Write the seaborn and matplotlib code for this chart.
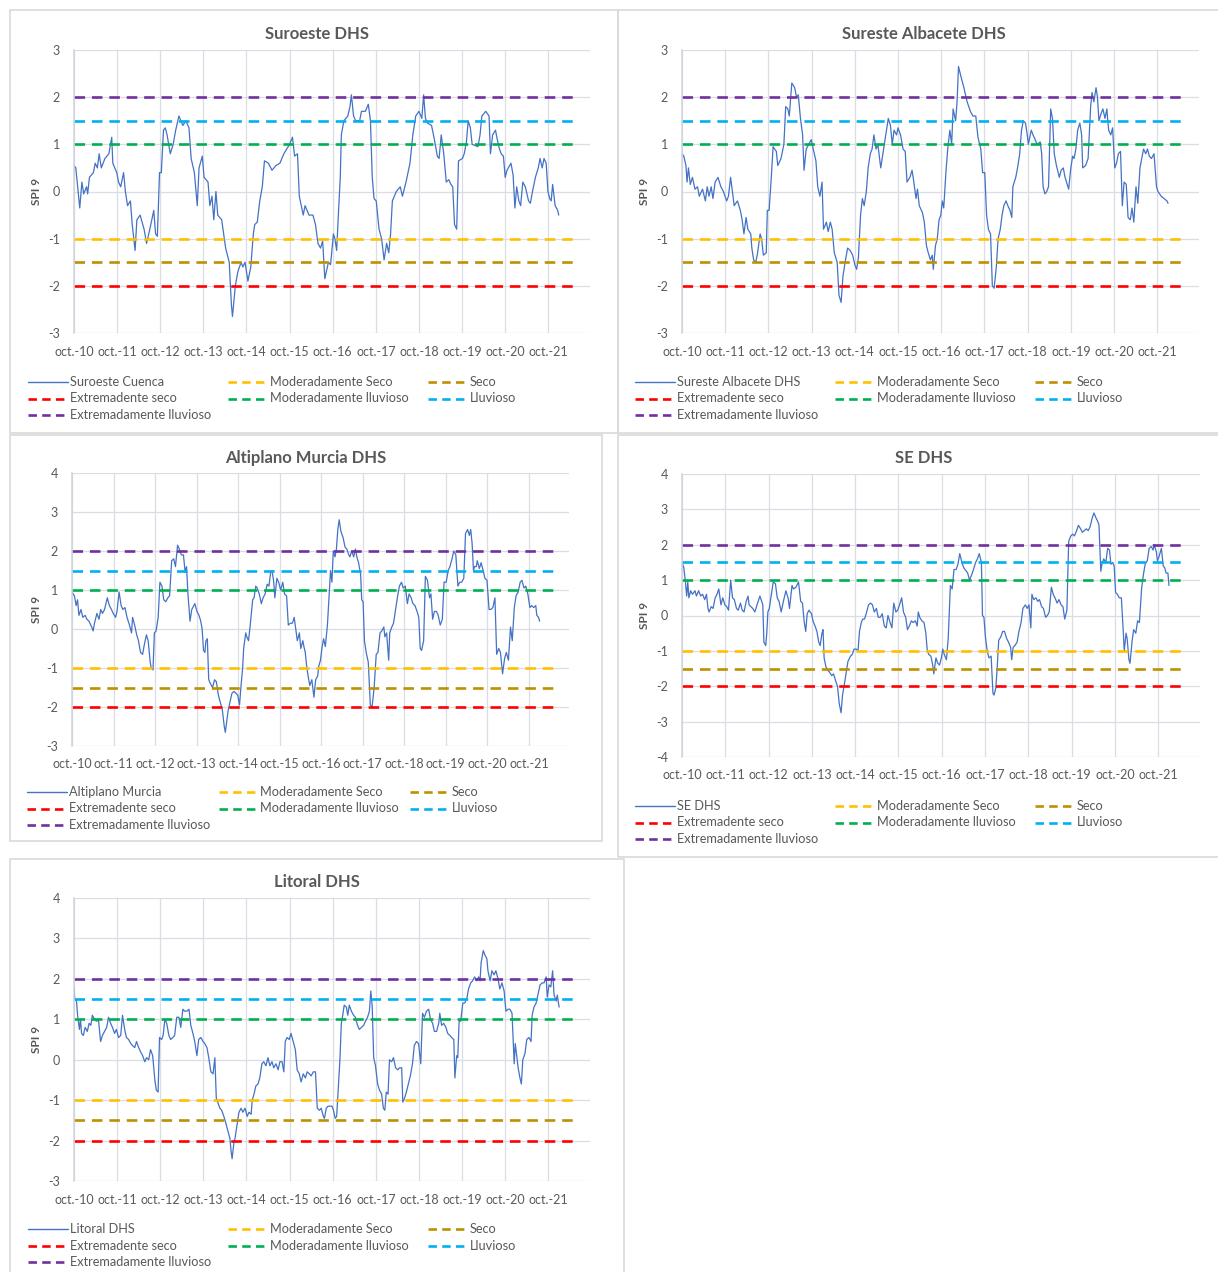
import pandas as pd
import seaborn as sns
import matplotlib.pyplot as plt
from matplotlib.lines import Line2D
from matplotlib.patches import Rectangle

# SPI 9: (months since oct.-10, value)
suroeste = [(0.0, 0.55), (0.5, 0.5), (1.6, -0.35), (2.2, 0.2), (2.7, -0.05), (3.5, 0.1), (3.8, -0.05),
            (4.3, 0.3), (5.4, 0.4), (5.9, 0.6), (6.5, 0.5), (7.0, 0.8), (7.6, 0.5), (8.6, 0.7), (9.7, 0.8),
            (10.5, 1.15), (10.8, 0.6), (11.9, 0.4), (12.4, 0.2), (13.0, 0.1), (13.8, 0.4), (14.3, 0.0),
            (14.9, -0.3), (15.7, -0.2), (16.2, -0.7), (17.0, -1.25), (17.5, -0.6), (18.4, -0.5), (19.5, -0.8),
            (20.2, -1.1), (21.1, -0.8), (22.2, -0.4), (22.7, -0.9), (23.2, -0.95), (23.8, 0.4), (24.3, 0.4),
            (24.9, 1.3), (25.4, 1.35), (25.9, 1.2), (26.8, 0.8), (27.6, 1.0), (28.3, 1.3), (29.2, 1.6),
            (30.3, 1.4), (31.1, 1.5), (32.0, 1.35), (32.6, 0.7), (33.5, 0.4), (34.3, -0.3), (34.8, 0.5),
            (35.7, 0.75), (36.2, 0.3), (37.3, 0.2), (37.8, -0.3), (38.4, -0.1), (38.9, -0.6), (39.5, 0.0),
            (40.0, -0.5), (41.1, -0.6), (42.2, -1.2), (43.2, -1.5), (43.8, -2.4), (44.1, -2.65), (44.9, -2.0),
            (45.6, -1.7), (46.5, -1.5), (47.0, -1.6), (47.6, -1.5), (48.4, -1.9), (49.2, -1.6), (49.9, -0.9),
            (50.3, -0.7), (51.0, -0.65), (51.7, -0.2), (52.4, 0.1), (53.0, 0.65), (54.1, 0.6), (55.1, 0.45),
            (56.2, 0.55), (57.3, 0.6), (58.4, 0.8), (59.2, 0.9), (60.0, 1.0), (60.8, 1.15), (61.4, 0.75),
            (62.2, 0.8), (62.7, -0.1), (63.8, -0.5), (64.3, -0.3), (65.4, -0.5), (66.5, -0.5), (67.2, -0.7),
            (67.9, -1.1), (68.6, -1.2), (69.2, -1.05), (69.8, -1.85), (70.8, -1.5), (71.4, -1.55), (72.2, -0.9),
            (72.6, -1.0), (73.1, -1.25), (73.5, -0.6), (74.1, 0.3), (74.4, 1.2), (75.1, 1.5), (76.2, 1.6),
            (76.8, 1.8), (77.2, 2.05), (77.8, 1.6), (78.4, 1.5), (79.5, 1.5), (80.0, 1.7), (81.1, 1.7),
            (81.9, 1.85), (82.5, 1.5), (83.0, 0.3), (83.5, -0.15), (84.1, -0.2), (84.9, -0.8), (85.6, -1.0),
            (86.3, -1.45), (87.0, -1.1), (87.6, -1.3), (88.1, -0.9), (88.6, -0.2), (89.7, 0.0), (90.8, 0.1),
            (91.4, -0.1), (92.4, 0.2), (93.5, 0.6), (94.3, 1.2), (95.1, 1.6), (96.0, 1.7), (96.8, 1.55),
            (97.3, 2.05), (97.8, 1.55), (98.4, 1.45), (99.5, 1.4), (100.3, 1.1), (101.1, 0.75), (101.6, 0.7),
            (102.2, 1.2), (102.9, 0.8), (103.6, 0.2), (104.3, 0.25), (104.9, 0.15), (105.4, 0.1), (105.9, -0.7),
            (106.5, -0.8), (107.0, 0.65), (108.1, 0.7), (108.6, 0.8), (109.2, 1.05), (109.7, 1.5), (110.3, 1.35),
            (110.8, 1.0), (112.4, 0.95), (113.0, 1.2), (113.5, 1.6), (114.6, 1.7), (115.5, 1.6), (115.9, 0.8),
            (116.5, 1.2), (117.3, 1.3), (117.8, 1.1), (118.4, 0.9), (118.9, 0.8), (119.5, 0.75), (120.0, 0.3),
            (120.5, 0.45), (121.6, 0.6), (122.2, 0.35), (122.7, -0.35), (123.2, 0.1), (123.8, -0.2),
            (124.3, -0.3), (124.9, 0.2), (125.6, 0.1), (126.5, -0.2), (127.0, -0.25), (127.6, 0.0), (128.4, 0.3),
            (129.2, 0.5), (129.7, 0.7), (130.3, 0.5), (130.8, 0.7), (131.4, 0.6), (131.9, 0.0), (132.4, -0.15),
            (132.8, -0.2), (133.2, 0.15), (133.9, -0.3), (134.6, -0.4), (134.9, -0.5)]

albacete = [(0.0, 0.8), (0.5, 0.75), (1.1, 0.55), (1.4, 0.2), (1.8, 0.5), (2.3, 0.15), (2.9, 0.3), (3.6, 0.05),
            (4.3, 0.1), (4.8, -0.1), (5.7, 0.05), (6.5, -0.2), (7.0, 0.1), (7.5, -0.1), (8.1, 0.1), (8.6, -0.15),
            (9.2, 0.2), (10.0, 0.3), (10.8, 0.1), (11.5, 0.0), (12.4, -0.2), (12.9, -0.1), (13.5, 0.3),
            (14.0, 0.0), (14.5, -0.3), (15.4, -0.2), (16.2, -0.4), (16.7, -0.6), (17.2, -0.9), (17.8, -0.55),
            (18.3, -0.8), (19.1, -0.9), (19.4, -1.2), (19.9, -1.45), (20.5, -1.5), (21.0, -1.3), (21.7, -0.9),
            (22.1, -1.0), (22.6, -1.35), (23.4, -1.3), (23.7, -0.4), (24.2, -0.4), (24.8, 0.3), (25.3, 0.95),
            (26.2, 0.85), (26.6, 0.55), (27.5, 0.7), (28.3, 1.0), (28.8, 1.8), (29.4, 1.75), (29.8, 1.6),
            (30.5, 2.3), (31.3, 2.2), (31.8, 2.0), (32.3, 2.05), (32.9, 1.55), (33.5, 1.2), (33.9, 0.45),
            (34.5, 0.9), (35.2, 1.0), (35.9, 1.1), (36.3, 0.95), (37.2, 0.65), (37.7, 0.1), (38.3, -0.1),
            (38.9, 0.2), (39.3, -0.8), (40.1, -0.65), (40.6, -0.85), (41.2, -0.65), (41.7, -0.8), (42.3, -1.3),
            (43.1, -1.5), (43.6, -2.2), (44.2, -2.35), (44.7, -1.8), (45.3, -1.5), (46.0, -1.2), (46.7, -1.25),
            (47.4, -1.35), (48.0, -1.55), (48.5, -1.65), (49.0, -1.4), (49.6, -0.5), (50.1, -0.15), (50.6, -0.3),
            (51.2, 0.0), (51.7, 0.5), (52.3, 0.8), (52.8, 0.9), (53.3, 1.2), (53.9, 0.9), (54.4, 1.0),
            (55.2, 0.5), (55.7, 0.75), (56.4, 1.1), (56.8, 1.3), (57.3, 1.55), (57.9, 1.4), (58.4, 1.0),
            (58.9, 1.3), (59.6, 1.2), (60.0, 1.35), (60.7, 1.2), (61.4, 0.9), (62.0, 0.85), (62.5, 0.2),
            (63.3, 0.3), (63.9, 0.45), (64.3, 0.25), (65.0, -0.15), (65.4, 0.05), (65.9, -0.3), (66.8, -0.45),
            (67.3, -0.65), (67.9, -1.15), (68.4, -1.3), (69.0, -1.45), (69.5, -1.35), (69.8, -1.65),
            (70.4, -1.15), (70.9, -1.0), (71.4, -0.6), (71.9, -0.5), (72.3, -0.2), (72.7, -0.35), (73.3, 0.4),
            (73.8, 0.9), (74.4, 1.3), (74.9, 1.0), (75.3, 1.75), (76.0, 1.5), (76.4, 1.9), (76.8, 2.65),
            (77.6, 2.4), (78.3, 2.2), (79.2, 1.9), (80.1, 1.7), (80.8, 1.6), (81.6, 1.6), (82.2, 1.15),
            (83.0, 0.9), (83.5, 0.4), (84.1, 0.4), (84.6, -0.5), (85.1, -0.8), (85.7, -0.9), (86.2, -2.0),
            (86.7, -2.05), (87.3, -1.6), (87.8, -1.0), (88.4, -0.8), (88.9, -0.5), (89.4, -0.3), (90.0, -0.2),
            (90.5, -0.3), (91.1, -0.4), (91.6, -0.55), (91.9, 0.1), (92.7, 0.3), (93.2, 0.5), (93.8, 0.8),
            (94.3, 1.3), (94.8, 1.5), (95.4, 1.45), (95.9, 1.2), (96.2, 1.0), (97.0, 1.3), (97.5, 1.2),
            (98.1, 1.1), (98.6, 1.0), (99.5, 1.05), (99.9, 0.8), (100.3, 0.1), (100.8, -0.05), (101.3, 0.0),
            (101.8, 0.1), (102.4, 1.75), (102.9, 1.55), (103.4, 0.8), (104.0, 0.55), (104.5, 0.4), (104.8, 0.3),
            (105.3, 0.45), (105.9, 0.5), (106.4, 0.3), (107.0, 0.15), (107.4, 0.05), (108.0, 0.5), (108.5, 0.75),
            (108.9, 0.7), (109.4, 0.9), (109.9, 1.3), (110.5, 1.45), (111.0, 1.2), (111.3, 0.5), (112.1, 0.55),
            (112.8, 0.7), (113.5, 1.8), (113.9, 2.1), (114.4, 1.9), (115.0, 2.2), (115.4, 2.0), (115.8, 1.5),
            (116.4, 1.65), (116.9, 1.75), (117.5, 1.55), (118.0, 1.75), (118.5, 1.3), (119.1, 1.2), (119.6, 1.35),
            (120.2, 0.5), (120.7, 0.6), (121.2, 0.8), (121.8, 0.85), (122.3, -0.3), (122.8, 0.2), (123.4, 0.15),
            (123.9, -0.55), (124.5, -0.6), (125.0, -0.35), (125.5, -0.65), (126.1, 0.1), (126.6, -0.25),
            (127.2, 0.5), (127.7, 0.7), (128.2, 0.9), (128.8, 0.8), (129.3, 0.9), (129.8, 0.75), (130.4, 0.7),
            (131.1, 0.8), (131.8, 0.1), (132.2, 0.0), (133.1, -0.1), (133.9, -0.15), (134.7, -0.2), (135.0, -0.25)]

altiplano = [(0.0, 0.95), (0.7, 0.85), (1.2, 0.6), (1.6, 0.75), (2.0, 0.35), (2.6, 0.5), (3.1, 0.3), (3.8, 0.35),
             (4.3, 0.25), (4.9, 0.2), (5.7, 0.05), (6.1, -0.05), (6.5, 0.15), (7.2, 0.4), (7.8, 0.25), (8.3, 0.5),
             (8.8, 0.4), (9.4, 0.5), (10.2, 0.8), (10.8, 0.6), (11.4, 0.5), (11.9, 0.4), (12.6, 0.3), (13.0, 0.45),
             (13.6, 0.95), (14.2, 0.6), (14.7, 0.5), (15.3, 0.55), (15.9, 0.3), (16.6, 0.1), (17.2, -0.1),
             (17.5, 0.3), (18.1, 0.1), (18.7, -0.15), (19.2, -0.3), (19.8, -0.6), (20.4, -0.65), (20.9, -0.4),
             (21.5, -0.15), (22.0, -0.3), (22.6, -0.85), (22.9, -1.0), (23.4, -1.05), (23.8, -0.1), (24.3, -0.05),
             (24.9, 0.3), (25.4, 1.2), (26.0, 1.1), (26.5, 0.75), (27.1, 0.7), (27.7, 0.8), (28.2, 0.85),
             (28.8, 1.75), (29.4, 1.8), (29.9, 1.6), (30.5, 2.15), (31.0, 2.05), (31.6, 1.9), (32.2, 1.9),
             (32.7, 1.45), (33.1, 1.6), (33.5, 0.9), (34.1, 0.2), (34.6, 0.5), (35.5, 0.65), (36.1, 0.45),
             (36.7, 0.35), (37.2, 0.2), (37.6, 0.0), (38.0, -0.55), (38.4, -0.6), (38.7, -0.3), (39.1, -0.25),
             (39.5, -1.3), (40.0, -1.4), (40.6, -1.5), (41.2, -1.3), (41.7, -1.35), (42.3, -1.7), (42.9, -1.9),
             (43.4, -2.05), (44.0, -2.5), (44.3, -2.65), (44.8, -2.3), (45.1, -2.1), (45.7, -1.85), (46.2, -1.65),
             (46.8, -1.6), (47.4, -1.65), (47.9, -1.7), (48.4, -1.95), (48.8, -1.5), (49.3, -1.0), (49.6, -0.5),
             (50.2, -0.1), (50.5, -0.2), (51.0, -0.3), (51.5, 0.1), (52.2, 0.75), (52.6, 0.8), (53.1, 1.1),
             (53.5, 1.05), (54.1, 0.9), (54.7, 0.65), (55.2, 0.8), (55.8, 0.9), (56.4, 1.15), (56.9, 1.1),
             (57.4, 1.45), (57.8, 1.5), (58.3, 1.2), (58.6, 0.8), (59.2, 1.3), (59.7, 1.2), (60.3, 1.0),
             (60.9, 1.2), (61.4, 0.9), (62.0, 0.85), (62.5, 0.1), (63.1, 0.15), (63.7, 0.15), (64.2, 0.3),
             (64.8, -0.1), (65.1, -0.3), (65.7, -0.1), (66.1, -0.5), (66.7, -0.3), (67.0, -0.45), (67.4, -0.6),
             (67.8, -0.95), (68.2, -1.2), (68.7, -1.45), (69.3, -1.3), (69.9, -1.75), (70.4, -1.3), (71.0, -1.2),
             (71.3, -0.95), (71.8, -0.8), (72.2, -0.5), (72.7, -0.25), (73.2, -0.45), (73.8, 0.1), (74.4, 1.05),
             (74.7, 1.5), (75.1, 1.2), (75.5, 2.0), (76.0, 1.85), (76.4, 2.05), (76.8, 2.55), (77.2, 2.8),
             (77.7, 2.5), (78.3, 2.35), (78.9, 2.1), (79.4, 2.05), (80.0, 1.9), (80.3, 1.85), (80.8, 2.0),
             (81.4, 1.85), (81.9, 2.05), (82.3, 1.85), (82.8, 1.7), (83.4, 1.4), (83.7, 0.75), (84.1, 0.7),
             (84.5, -0.3), (85.0, -0.6), (85.6, -0.85), (86.2, -1.95), (86.7, -2.0), (87.3, -1.5), (87.9, -0.65),
             (88.4, -0.6), (89.0, -0.1), (89.5, -0.05), (90.1, 0.05), (90.4, -0.2), (90.9, -0.1), (91.5, -0.8),
             (91.8, -0.1), (92.4, 0.05), (92.9, 0.15), (93.5, 0.5), (94.0, 0.8), (94.6, 1.1), (95.2, 1.2),
             (95.7, 1.05), (96.3, 1.1), (96.9, 0.65), (97.4, 0.9), (98.0, 0.8), (98.5, 0.65), (99.1, 0.6),
             (99.7, 0.45), (100.2, 0.3), (100.6, -0.5), (101.0, -0.55), (101.6, -0.3), (102.1, 1.35),
             (102.7, 1.25), (103.3, 0.8), (103.7, 0.9), (104.2, 0.25), (104.7, 0.45), (105.3, 0.45),
             (105.8, 0.35), (106.4, 0.1), (107.0, 0.25), (107.5, 1.2), (108.1, 1.2), (108.7, 1.5), (109.2, 1.6),
             (109.8, 1.8), (110.3, 2.0), (110.9, 1.9), (111.5, 1.1), (112.0, 1.2), (112.6, 1.2), (113.2, 1.3),
             (113.7, 2.45), (114.3, 2.55), (114.8, 2.4), (115.2, 2.55), (115.6, 2.2), (116.0, 1.5), (116.3, 1.6),
             (116.8, 1.6), (117.1, 1.75), (117.7, 1.55), (118.2, 1.7), (118.8, 1.5), (119.3, 1.3), (119.9, 1.25),
             (120.5, 0.5), (121.0, 0.5), (121.6, 0.55), (122.2, 0.8), (122.7, -0.65), (123.3, -0.5),
             (123.8, -0.6), (124.4, -1.15), (125.0, -0.75), (125.5, -0.6), (126.1, -0.8), (126.7, 0.05),
             (127.2, -0.3), (127.8, 0.55), (128.3, 0.85), (128.9, 0.95), (129.5, 1.2), (130.0, 1.25),
             (130.6, 1.05), (131.1, 1.1), (131.7, 0.9), (132.3, 0.55), (132.8, 0.6), (133.4, 0.55), (134.0, 0.6),
             (134.3, 0.35), (134.8, 0.3), (135.1, 0.2)]

se_dhs = [(0.0, 1.5), (0.5, 1.35), (0.9, 1.0), (1.3, 0.55), (1.6, 0.95), (1.9, 0.5), (2.4, 0.7), (2.9, 0.6),
          (3.6, 0.7), (4.0, 0.55), (4.6, 0.7), (5.2, 0.55), (5.7, 0.6), (6.3, 0.45), (6.8, 0.6), (7.2, 0.2),
          (7.5, 0.1), (8.1, 0.25), (8.6, 0.2), (9.2, 0.5), (9.7, 0.6), (10.2, 0.75), (10.8, 0.3), (11.3, 0.5),
          (11.9, 0.3), (12.4, 0.25), (12.9, 0.15), (13.5, 1.0), (14.0, 0.5), (14.5, 0.45), (15.1, 0.2),
          (15.6, 0.15), (16.2, 0.35), (16.7, 0.15), (17.2, 0.1), (17.8, 0.4), (18.3, 0.55), (18.6, 0.3),
          (19.1, 0.25), (19.6, 0.2), (20.2, 0.1), (20.8, 0.3), (21.6, 0.55), (22.1, 0.4), (22.4, 0.3),
          (22.7, -0.75), (23.2, -0.85), (23.5, -0.5), (23.8, 0.1), (24.2, 0.2), (24.8, 0.6), (25.3, 0.95),
          (25.9, 0.9), (26.4, 0.5), (26.9, 0.4), (27.5, 0.1), (28.0, 0.35), (28.8, 0.7), (29.4, 0.5), (29.8, 0.2),
          (30.5, 0.85), (30.9, 0.75), (31.6, 0.8), (32.3, 0.95), (32.9, 0.4), (33.4, 0.35), (33.9, -0.2),
          (34.3, -0.45), (34.7, 0.05), (35.2, 0.15), (35.9, 0.05), (36.3, -0.15), (36.9, -0.3), (37.4, -0.45),
          (37.9, -0.75), (38.3, -0.85), (38.8, -0.5), (39.1, -0.4), (39.4, -1.2), (39.9, -1.45), (40.4, -1.55),
          (40.9, -1.6), (41.5, -1.7), (42.0, -1.65), (42.6, -1.85), (43.1, -2.0), (43.6, -2.5), (44.1, -2.75),
          (44.5, -2.25), (45.0, -1.95), (45.6, -1.55), (46.0, -1.3), (46.7, -1.15), (47.2, -1.1), (47.7, -0.95),
          (48.3, -0.95), (48.8, -1.0), (49.2, -0.45), (49.7, -0.2), (50.1, -0.1), (50.6, -0.1), (51.2, 0.1),
          (51.7, 0.3), (52.3, 0.35), (52.8, 0.3), (53.3, 0.1), (53.9, 0.2), (54.4, -0.05), (55.0, -0.05),
          (55.5, 0.05), (56.1, -0.3), (56.6, -0.35), (57.1, 0.0), (57.7, -0.2), (58.2, -0.35), (58.7, 0.35),
          (59.3, 0.1), (59.8, 0.15), (60.3, 0.3), (60.9, 0.5), (61.4, 0.1), (62.0, -0.05), (62.5, -0.4),
          (63.0, -0.3), (63.6, -0.15), (64.1, -0.2), (64.7, -0.15), (65.2, -0.3), (65.5, 0.1), (65.9, -0.05),
          (66.5, -0.15), (67.1, -0.2), (67.6, -0.5), (68.0, -1.0), (68.4, -1.1), (69.0, -1.15), (69.5, -1.4),
          (69.8, -1.65), (70.4, -1.2), (70.9, -1.35), (71.4, -1.4), (71.9, -1.2), (72.3, -0.95), (72.7, -1.1),
          (73.3, -1.25), (73.8, -0.65), (74.4, 0.85), (74.9, 0.75), (75.4, 1.3), (76.0, 1.3), (76.5, 1.45),
          (77.0, 1.75), (77.6, 1.5), (78.1, 1.35), (79.2, 1.2), (79.7, 1.0), (80.3, 1.15), (80.8, 1.3),
          (81.4, 1.5), (81.9, 1.6), (82.4, 1.75), (83.0, 1.5), (83.3, 0.0), (83.7, -0.05), (84.1, -0.6),
          (84.6, -1.0), (85.1, -1.2), (85.7, -1.15), (86.2, -2.2), (86.5, -2.25), (87.0, -2.05), (87.3, -1.6),
          (87.8, -0.7), (88.4, -0.6), (88.9, -0.45), (89.4, -0.45), (90.0, -0.65), (90.5, -0.75), (91.1, -0.9),
          (91.4, -1.25), (91.8, -0.9), (92.3, -0.85), (92.9, -0.75), (93.4, -0.45), (94.0, -0.2), (94.5, 0.2),
          (95.2, 0.3), (95.7, 0.2), (96.2, 0.3), (96.7, -0.35), (97.0, 0.6), (97.5, 0.45), (98.1, 0.5),
          (98.6, 0.4), (99.1, 0.45), (99.7, 0.25), (100.2, 0.2), (100.8, -0.05), (101.3, 0.0), (101.8, 0.1),
          (102.4, 0.8), (102.9, 0.6), (103.4, 0.5), (104.0, 0.35), (104.5, 0.45), (105.1, 0.3), (105.6, 0.25),
          (106.1, -0.1), (106.7, 0.15), (107.2, 2.1), (107.8, 2.25), (108.3, 2.3), (108.8, 2.25), (109.4, 2.4),
          (109.9, 2.55), (110.5, 2.45), (111.0, 2.35), (111.5, 2.4), (112.1, 2.45), (112.6, 2.4), (113.1, 2.5),
          (113.7, 2.75), (114.2, 2.9), (114.8, 2.75), (115.3, 2.65), (115.6, 2.55), (116.1, 1.25), (116.4, 1.45),
          (116.9, 1.6), (117.5, 1.5), (118.0, 1.9), (118.5, 1.85), (118.9, 1.45), (119.4, 1.5), (119.8, 1.4),
          (120.2, 0.65), (120.7, 0.6), (121.2, 0.5), (121.8, 0.5), (122.3, -0.4), (122.6, -1.0), (123.1, -0.5),
          (123.4, -0.65), (123.9, -1.25), (124.2, -1.35), (124.8, -0.7), (125.2, -0.4), (125.8, -0.5),
          (126.3, -0.15), (126.8, -0.2), (127.4, 0.75), (127.9, 1.15), (128.4, 1.45), (129.0, 1.55),
          (129.5, 1.9), (130.1, 1.95), (130.6, 1.85), (130.9, 2.0), (131.5, 1.8), (131.8, 1.55), (132.2, 1.65),
          (132.9, 1.9), (133.4, 1.4), (133.8, 1.35), (134.2, 1.2), (134.7, 1.2), (135.0, 0.85)]

litoral = [(0.0, 1.8), (0.2, 1.5), (0.7, 1.45), (1.0, 1.1), (1.5, 0.75), (1.8, 1.0), (2.1, 0.65), (2.6, 0.6),
           (3.1, 0.8), (3.7, 0.7), (4.2, 0.9), (4.7, 0.85), (5.1, 1.1), (5.7, 1.0), (6.3, 0.95), (6.8, 1.0),
           (7.4, 0.45), (7.9, 0.6), (8.5, 0.7), (9.1, 0.8), (9.6, 1.05), (10.2, 0.9), (10.7, 0.8), (11.3, 0.65),
           (11.8, 0.75), (12.4, 0.55), (13.0, 0.6), (13.5, 1.1), (14.1, 0.75), (14.6, 0.55), (15.2, 0.5),
           (15.8, 0.4), (16.3, 0.35), (16.9, 0.3), (17.4, 0.45), (18.0, 0.3), (18.5, 0.2), (19.1, 0.1),
           (19.7, -0.05), (20.2, 0.05), (20.8, 0.0), (21.3, 0.25), (21.9, 0.1), (22.5, -0.5), (22.9, -0.75),
           (23.4, -0.8), (23.8, 0.55), (24.4, 0.5), (24.8, 0.6), (25.3, 1.0), (25.8, 0.9), (26.4, 0.6),
           (26.9, 0.5), (27.5, 0.55), (28.0, 0.6), (28.6, 1.05), (29.2, 1.05), (29.7, 0.8), (30.3, 1.25),
           (30.8, 1.2), (31.4, 1.2), (32.0, 1.25), (32.5, 0.85), (33.1, 0.65), (33.6, 0.45), (34.2, 0.1),
           (34.7, 0.5), (35.3, 0.55), (35.9, 0.45), (36.4, 0.4), (37.0, 0.3), (37.5, 0.05), (38.1, -0.3),
           (38.7, -0.35), (39.2, 0.05), (39.6, -0.95), (40.0, -1.05), (40.6, -1.2), (41.1, -1.25), (41.7, -1.4),
           (42.2, -1.55), (42.8, -1.75), (43.4, -1.95), (43.7, -2.25), (44.0, -2.45), (44.5, -2.05),
           (44.8, -1.95), (45.4, -1.6), (45.9, -1.3), (46.5, -1.2), (47.0, -1.3), (47.6, -1.2), (48.2, -1.4),
           (48.7, -1.3), (49.3, -1.35), (49.6, -1.0), (50.1, -0.85), (50.6, -0.65), (51.2, -0.6), (51.7, -0.45),
           (52.3, -0.1), (52.8, -0.05), (53.4, -0.15), (54.0, 0.05), (54.5, -0.15), (55.1, -0.05), (55.6, -0.2),
           (56.2, -0.1), (56.8, -0.25), (57.3, -0.05), (57.9, -0.05), (58.4, -0.3), (58.8, 0.45), (59.3, 0.55),
           (59.9, 0.5), (60.4, 0.65), (61.0, 0.45), (61.6, 0.25), (62.1, -0.25), (62.7, -0.35), (63.2, -0.55),
           (63.8, -0.35), (64.4, -0.45), (64.9, -0.3), (65.5, -0.35), (66.0, -0.4), (66.6, -0.3), (67.2, -0.3),
           (67.7, -1.2), (68.3, -1.25), (68.8, -1.2), (69.4, -1.4), (69.7, -1.45), (70.2, -1.2), (70.7, -1.15),
           (71.3, -1.15), (71.8, -1.15), (72.2, -1.25), (72.7, -1.45), (73.1, -1.4), (73.6, -0.6), (74.0, 0.0),
           (74.4, 0.9), (74.7, 1.05), (75.2, 1.35), (75.8, 1.3), (76.2, 1.1), (76.6, 1.35), (77.2, 1.2),
           (77.8, 1.1), (78.3, 1.05), (78.9, 0.85), (79.4, 0.75), (80.0, 0.8), (80.6, 0.85), (81.1, 0.95),
           (81.7, 1.05), (82.2, 1.2), (82.6, 1.7), (83.0, 1.3), (83.4, 0.05), (83.9, -0.15), (84.5, -0.6),
           (85.0, -0.75), (85.6, -0.85), (86.1, -1.2), (86.5, -1.25), (86.9, -0.8), (87.4, -0.85), (87.8, 0.0),
           (88.4, -0.05), (88.9, 0.05), (89.5, -0.2), (90.1, -0.25), (90.6, -0.2), (91.2, -0.2), (91.5, -1.05),
           (92.0, -0.95), (92.5, -0.8), (93.2, -0.55), (93.6, -0.4), (94.2, -0.1), (94.7, 0.35), (95.3, 0.45),
           (95.9, 0.4), (96.5, -0.1), (97.0, 1.15), (97.5, 1.05), (98.1, 1.2), (98.7, 1.25), (99.2, 1.0),
           (99.8, 0.9), (100.3, 0.7), (100.9, 0.7), (101.5, 0.9), (101.8, 1.15), (102.3, 0.85), (102.9, 0.9),
           (103.5, 0.8), (104.0, 0.65), (104.6, 0.6), (105.1, 0.55), (105.7, 0.5), (106.0, -0.45), (106.5, 0.1),
           (106.8, 0.05), (107.2, 1.0), (107.6, 0.95), (108.2, 1.4), (108.7, 1.4), (109.3, 1.5), (109.8, 1.75),
           (110.4, 1.9), (110.9, 1.95), (111.5, 2.05), (112.1, 1.95), (112.6, 2.05), (113.0, 1.95), (113.3, 2.4),
           (113.9, 2.7), (114.3, 2.6), (114.9, 2.5), (115.2, 2.2), (115.8, 1.95), (116.3, 2.2), (116.9, 2.1),
           (117.4, 2.2), (118.0, 2.0), (118.5, 1.75), (119.1, 1.9), (119.7, 1.7), (120.2, 1.2), (120.8, 1.25),
           (121.3, 1.25), (121.9, 1.15), (122.5, -0.1), (122.8, 0.4), (123.2, 0.1), (123.6, -0.2),
           (124.1, -0.45), (124.5, -0.6), (124.9, 0.0), (125.5, 0.15), (126.0, 0.5), (126.6, 0.55), (127.2, 0.45),
           (127.5, 1.1), (128.0, 1.3), (128.6, 1.4), (129.2, 1.65), (129.7, 1.85), (130.3, 1.9), (130.8, 1.9),
           (131.4, 2.05), (131.7, 1.55), (132.2, 1.85), (132.7, 1.8), (133.2, 2.2), (133.6, 1.6), (134.2, 1.45),
           (134.5, 1.6), (135.0, 1.3)]

year_labels = ['oct.-10', 'oct.-11', 'oct.-12', 'oct.-13', 'oct.-14', 'oct.-15',
               'oct.-16', 'oct.-17', 'oct.-18', 'oct.-19', 'oct.-20', 'oct.-21']
umbral_nombres = ['Moderadamente Seco', 'Seco', 'Extremadente seco',
                  'Moderadamente lluvioso', 'Lluvioso', 'Extremadamente lluvioso']
umbral_valores = [-1, -1.5, -2, 1, 1.5, 2]
umbral_colores = ['#FFC000', '#BF9000', '#FF0000', '#00B050', '#00B0F0', '#7030A0']
umbral_fin = 139  # thresholds stop before the axis end

sns.set_style('white')
plt.rcParams['font.family'] = ['Lato', 'DejaVu Sans']
plt.rcParams['axes.unicode_minus'] = False

W, H = 1218, 1272
fig = plt.figure(figsize=(W / 100, H / 100), dpi=100)
gris = '#595959'
azul = '#4472C4'

paneles = [
    dict(titulo='Suroeste DHS', serie='Suroeste Cuenca', datos=suroeste, ylim=(-3, 3),
         caja=(10, 10, 618, 433), ejes=(74, 50, 590, 333), tx=317, ty=34, lx=37,
         leg=(28, 382), colw=200),
    dict(titulo='Sureste Albacete DHS', serie='Sureste Albacete DHS', datos=albacete, ylim=(-3, 3),
         caja=(618, 10, 1240, 433), ejes=(682, 50, 1199, 333), tx=924, ty=34, lx=645,
         leg=(635, 382), colw=200),
    dict(titulo='Altiplano Murcia DHS', serie='Altiplano Murcia', datos=altiplano, ylim=(-3, 4),
         caja=(10, 435, 602, 841), ejes=(72, 473, 569, 746), tx=306, ty=458, lx=37,
         leg=(27, 792), colw=191.5),
    dict(titulo='SE DHS', serie='SE DHS', datos=se_dhs, ylim=(-4, 4),
         caja=(618, 435, 1240, 857), ejes=(682, 474, 1200, 757), tx=924, ty=458, lx=645,
         leg=(635, 806), colw=200),
    dict(titulo='Litoral DHS', serie='Litoral DHS', datos=litoral, ylim=(-3, 4),
         caja=(10, 859, 624, 1290), ejes=(74, 898, 590, 1181), tx=317, ty=882, lx=37,
         leg=(28, 1229), colw=200),
]

for p in paneles:
    x0, y0, x1, y1 = p['caja']
    fig.patches.append(Rectangle((x0 / W, 1 - y1 / H), (x1 - x0) / W, (y1 - y0) / H,
                                 transform=fig.transFigure, fill=False,
                                 edgecolor='#d9d9d9', lw=1.2))
    l, t, r, b = p['ejes']
    ax = fig.add_axes([l / W, 1 - b / H, (r - l) / W, (b - t) / H])

    df = pd.DataFrame(p['datos'], columns=['mes', 'spi'])
    sns.lineplot(data=df, x='mes', y='spi', ax=ax, color=azul, lw=0.9, sort=False)

    for nombre, v, c in zip(umbral_nombres, umbral_valores, umbral_colores):
        ax.plot([0, umbral_fin], [v, v], color=c, lw=1.9, dashes=(4, 2.6))

    ax.set_xlim(0, 143.6)
    ax.set_ylim(*p['ylim'])
    ax.set_xticks(range(0, 133, 12))
    ax.set_xticklabels(year_labels)
    ax.set_yticks(range(p['ylim'][0], p['ylim'][1] + 1))
    ax.tick_params(length=0, labelsize=9, colors=gris)
    ax.tick_params(axis='x', pad=9)
    ax.tick_params(axis='y', pad=10)
    ax.set_xlabel('')
    ax.set_ylabel('')
    ax.grid(True, color='#dadde5', lw=0.9)
    ax.set_axisbelow(True)
    for s in ['top', 'right', 'bottom']:
        ax.spines[s].set_visible(False)
    ax.spines['left'].set_color('#cfd3dc')
    ax.spines['left'].set_linewidth(1.1)

    fig.text(p['tx'] / W, 1 - p['ty'] / H, p['titulo'], ha='center', va='center',
             fontsize=12, fontweight='bold', color=gris)
    fig.text(p['lx'] / W, 1 - ((t + b) / 2) / H, 'SPI 9', ha='center', va='center',
             rotation=90, fontsize=8.5, fontweight='bold', color=gris)

    # Excel-style legend: three equal-width columns, filled row by row
    entradas = [(p['serie'], azul, None)] + [
        (n, c, (3.2, 2.0)) for n, c in zip(
            ['Moderadamente Seco', 'Seco', 'Extremadente seco', 'Moderadamente lluvioso',
             'Lluvioso', 'Extremadamente lluvioso'],
            ['#FFC000', '#BF9000', '#FF0000', '#00B050', '#00B0F0', '#7030A0'])]
    lx0, ly0 = p['leg']
    for i, (nombre, c, dash) in enumerate(entradas):
        fila, col = divmod(i, 3)
        hx = lx0 + col * p['colw']
        hy = 1 - (ly0 + fila * 16.5) / H
        if dash is None:
            fig.add_artist(Line2D([hx / W, (hx + 40) / W], [hy, hy], color=c, lw=1.0,
                                  transform=fig.transFigure))
        else:
            fig.add_artist(Line2D([hx / W, (hx + 36) / W], [hy, hy], color=c, lw=1.9,
                                  dashes=dash, transform=fig.transFigure))
        fig.text((hx + 42) / W, hy, nombre, ha='left', va='center', fontsize=9.2, color=gris)

fig.savefig('out.png', dpi=100)
